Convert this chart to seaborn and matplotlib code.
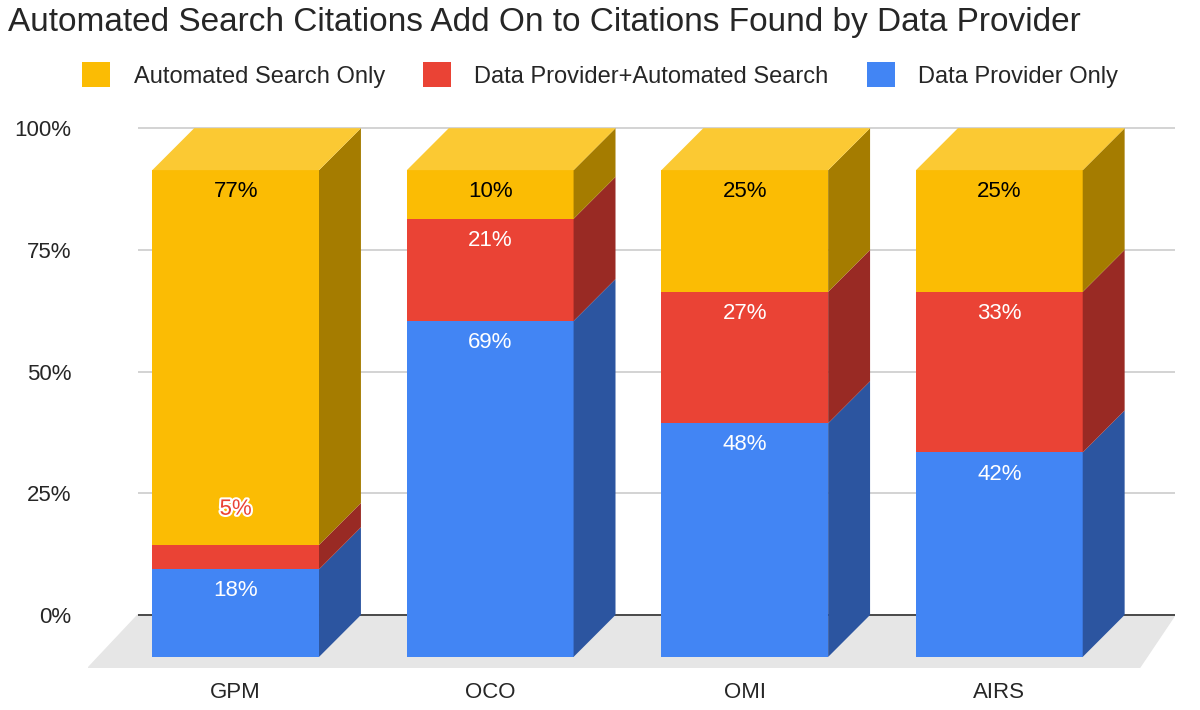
import matplotlib
matplotlib.use("Agg")
import matplotlib.pyplot as plt
import matplotlib.patheffects as pe
from matplotlib.patches import Polygon
import seaborn as sns
import numpy as np

categories = ["GPM", "OCO", "OMI", "AIRS"]
provider_only = [18, 69, 48, 42]
both = [5, 21, 27, 33]
auto_only = [77, 10, 25, 25]
series_names = ["Data Provider Only", "Data Provider+Automated Search", "Automated Search Only"]
yticks = [0, 25, 50, 75, 100]

sns.set_style("white")
plt.rcParams['font.family'] = ['Liberation Sans', 'DejaVu Sans']

front = ["#4285f4", "#ea4335", "#fbbc04"]
side = ["#2c55a0", "#992a24", "#a57c00"]
topc = "#fbc933"

fig = plt.figure(figsize=(12, 7.1), dpi=100)
ax = fig.add_axes([88/1200, 1-668/710, (1175-88)/1200, (668-116)/710])
ax.set_ylim(-10.9, 102.5)
ax.set_xlim(-0.58, 3.69)
for s in ax.spines.values():
    s.set_visible(False)

d = 42/4.87
dx = 42/255
w = 167/255
xs = np.arange(len(categories))

ax.add_patch(Polygon([(-0.58, -10.9), (3.55, -10.9), (3.69, 0), (-0.384, 0)],
                     closed=True, color="#e6e6e6", zorder=0))
ax.hlines(yticks, -0.384, 3.69, color="#cccccc", lw=1.2, zorder=0.5)
ax.hlines([0], -0.384, 3.69, color="#333333", lw=1.2, zorder=0.6)
ax.set_yticks(yticks)
ax.set_yticklabels([f"{t}%" for t in yticks], fontsize=16)
ax.tick_params(axis='y', length=0, pad=12)
ax.set_xticks(xs)
ax.set_xticklabels(categories, fontsize=16)
ax.tick_params(axis='x', length=0, pad=10)

series = [provider_only, both, auto_only]
for i, x in enumerate(xs):
    base = 0
    for k, vals in enumerate(series):
        v = vals[i]
        y0, y1 = base - d, base + v - d
        ax.bar(x, v, width=w, bottom=y0, color=front[k], zorder=2, linewidth=0,
               label=series_names[k] if i == 0 else None)
        xr = x + w/2
        ax.add_patch(Polygon([(xr, y0), (xr + dx, y0 + d), (xr + dx, y1 + d), (xr, y1)],
                             closed=True, color=side[k], zorder=2, lw=0))
        if k == 1 and v < 8:
            ax.text(x, base + v + 9.5 - d, f"{v}%", ha='center', va='top', fontsize=16,
                    color=front[1], zorder=3,
                    path_effects=[pe.withStroke(linewidth=3, foreground='white')])
        else:
            ax.text(x, y1 - 2.3, f"{v}%", ha='center', va='top', fontsize=16,
                    color='black' if k == 2 else 'white', zorder=3)
        base += v
    top = base - d
    ax.add_patch(Polygon([(x - w/2, top), (x + w/2, top), (x + w/2 + dx, top + d), (x - w/2 + dx, top + d)],
                         closed=True, color=topc, zorder=2, lw=0))

h, l = ax.get_legend_handles_labels()
order = [2, 1, 0]
fig.legend([h[o] for o in order], [l[o] for o in order], loc='center', bbox_to_anchor=(0.5, 1-75/710),
           ncol=3, frameon=False, fontsize=17, handlelength=1.2, handleheight=1.2,
           columnspacing=1.6, handletextpad=1.0)
fig.text(8/1200, 1-22/710, "Automated Search Citations Add On to Citations Found by Data Provider",
         fontsize=24, va='center', ha='left')
fig.savefig("out.png", dpi=100)
